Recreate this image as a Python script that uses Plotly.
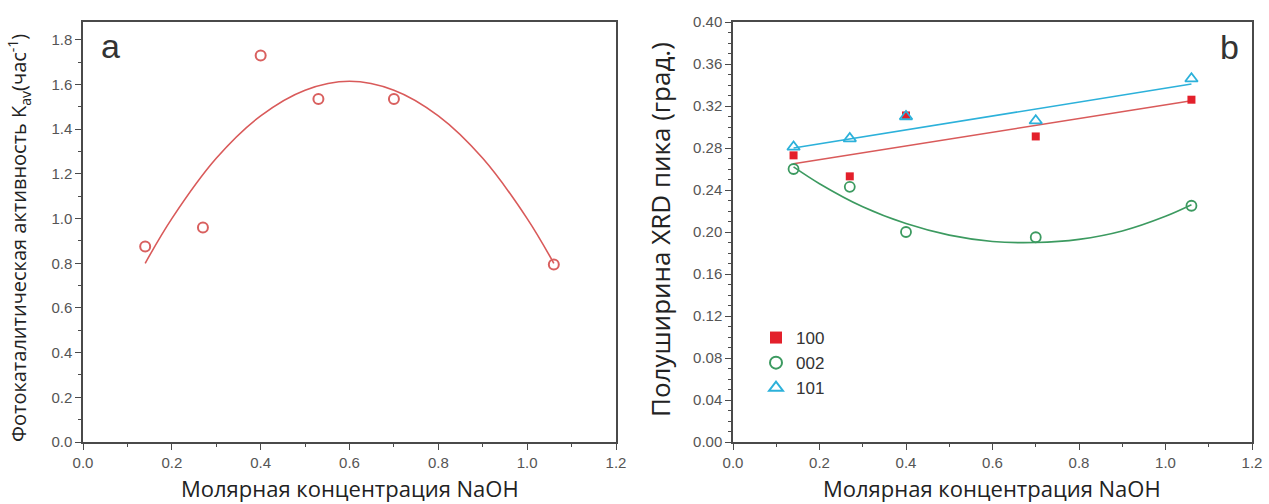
import plotly.graph_objects as go

# ---- data ----
naoh = [0.14, 0.27, 0.40, 0.53, 0.70, 1.06]
k_av = [0.875, 0.96, 1.73, 1.535, 1.535, 0.795]
fit_a_x = [0.14, 0.20, 0.30, 0.40, 0.50, 0.60, 0.70, 0.80, 0.90, 1.00, 1.06]
fit_a_y = [0.80, 1.00, 1.27, 1.46, 1.575, 1.615, 1.575, 1.46, 1.27, 1.00, 0.80]

naoh_b = [0.14, 0.27, 0.40, 0.70, 1.06]
fwhm_100 = [0.273, 0.253, 0.311, 0.291, 0.326]
fwhm_002 = [0.260, 0.243, 0.200, 0.195, 0.225]
fwhm_101 = [0.281, 0.289, 0.310, 0.306, 0.346]

fit_100_x = [0.14, 1.06]
fit_100_y = [0.265, 0.325]
fit_101_x = [0.14, 1.06]
fit_101_y = [0.280, 0.341]
fit_002_x = [0.14, 0.20, 0.30, 0.40, 0.50, 0.60, 0.70, 0.80, 0.90, 1.00, 1.06]
fit_002_y = [0.262, 0.246, 0.224, 0.208, 0.197, 0.191, 0.190, 0.193, 0.201, 0.215, 0.226]

RED_A = "#d9605f"
RED_SQ = "#e3202b"
RED_LN = "#d95a5a"
GREEN = "#3c9a60"
BLUE = "#2cb1da"
AX = "#4a4a4a"
TICKC = "#555555"

fig = go.Figure()

fig.add_trace(go.Scatter(x=fit_a_x, y=fit_a_y, mode="lines", line=dict(color=RED_LN, width=1.6, shape="spline"),
                         xaxis="x", yaxis="y", showlegend=False))
fig.add_trace(go.Scatter(x=naoh, y=k_av, mode="markers",
                         marker=dict(symbol="circle-open", size=10, color=RED_A, line=dict(width=2)),
                         xaxis="x", yaxis="y", showlegend=False))

fig.add_trace(go.Scatter(x=fit_100_x, y=fit_100_y, mode="lines", line=dict(color=RED_LN, width=1.6),
                         xaxis="x2", yaxis="y2", showlegend=False))
fig.add_trace(go.Scatter(x=fit_101_x, y=fit_101_y, mode="lines", line=dict(color=BLUE, width=1.6),
                         xaxis="x2", yaxis="y2", showlegend=False))
fig.add_trace(go.Scatter(x=fit_002_x, y=fit_002_y, mode="lines", line=dict(color=GREEN, width=1.6, shape="spline"),
                         xaxis="x2", yaxis="y2", showlegend=False))
fig.add_trace(go.Scatter(x=naoh_b, y=fwhm_100, mode="markers", name="100",
                         marker=dict(symbol="square", size=8, color=RED_SQ),
                         xaxis="x2", yaxis="y2"))
fig.add_trace(go.Scatter(x=naoh_b, y=fwhm_002, mode="markers", name="002",
                         marker=dict(symbol="circle-open", size=10, color=GREEN, line=dict(width=1.8)),
                         xaxis="x2", yaxis="y2"))
fig.add_trace(go.Scatter(x=naoh_b, y=fwhm_101, mode="markers", name="101",
                         marker=dict(symbol="triangle-up-open", size=11, color=BLUE, line=dict(width=1.8)),
                         xaxis="x2", yaxis="y2"))

W, H = 1269, 504
y_dom = [1 - 442 / H, 1 - 22 / H]
TF = dict(family="Liberation Sans, Arial", size=15, color=TICKC)

def xax(dom, anchor):
    return dict(domain=dom, range=[0, 1.2], dtick=0.2, tick0=0, tickformat=".1f", anchor=anchor,
                automargin=False,
                showline=True, linecolor=AX, linewidth=1.5, mirror=True,
                ticks="outside", ticklen=6, tickwidth=1.2, tickcolor=AX,
                minor=dict(dtick=0.1, ticks="outside", ticklen=3, tickcolor=AX, tickwidth=1.2),
                showgrid=False, zeroline=False, tickfont=TF)

def yax(rng, dt, mdt, fmt, anchor):
    return dict(domain=y_dom, range=rng, dtick=dt, tick0=0, tickformat=fmt, anchor=anchor,
                automargin=False,
                showline=True, linecolor=AX, linewidth=1.5, mirror=True,
                ticks="outside", ticklen=6, tickwidth=1.2, tickcolor=AX,
                minor=dict(dtick=mdt, ticks="outside", ticklen=3, tickcolor=AX, tickwidth=1.2),
                showgrid=False, zeroline=False, tickfont=TF)

fig.update_layout(
    width=W, height=H,
    margin=dict(l=0, r=0, t=0, b=0, pad=0, autoexpand=False),
    paper_bgcolor="white", plot_bgcolor="white",
    xaxis=xax([83 / W, 616 / W], "y"),
    yaxis=yax([0, 1.88], 0.2, 0.1, ".1f", "x"),
    xaxis2=xax([733 / W, 1252 / W], "y2"),
    yaxis2=yax([0, 0.40], 0.04, 0.01, ".2f", "x2"),
    legend=dict(x=756 / W, y=1 - 320 / H, xanchor="left", yanchor="top",
                bgcolor="rgba(0,0,0,0)", font=dict(family="Liberation Sans, Arial", size=17, color="#333333"),
                tracegroupgap=0, itemsizing="constant"),
    showlegend=True,
)

ann = [
    dict(text="a", x=110 / W, y=1 - 46 / H, font=dict(size=34, color="#333333", family="Liberation Sans, Arial")),
    dict(text="b", x=1229 / W, y=1 - 47 / H, font=dict(size=34, color="#333333", family="Liberation Sans, Arial")),
    dict(text="Фотокаталитическая активность K<sub>av</sub>(час<sup>-1</sup>)", x=19 / W, y=1 - 238 / H, textangle=-90,
         font=dict(size=20, color="#222222", family="Open Sans, Liberation Sans")),
    dict(text="Полуширина XRD пика (град.)", x=660 / W, y=1 - 230 / H, textangle=-90,
         font=dict(size=26, color="#222222", family="Open Sans, Liberation Sans")),
    dict(text="Молярная концентрация NaOH", x=350 / W, y=1 - 488 / H,
         font=dict(size=22, color="#222222", family="Open Sans, Liberation Sans")),
    dict(text="Молярная концентрация NaOH", x=992 / W, y=1 - 488 / H,
         font=dict(size=22, color="#222222", family="Open Sans, Liberation Sans")),
]
for a in ann:
    a.update(xref="paper", yref="paper", showarrow=False, xanchor="center", yanchor="middle")
fig.update_layout(annotations=ann)

fig.write_html("out.html")
